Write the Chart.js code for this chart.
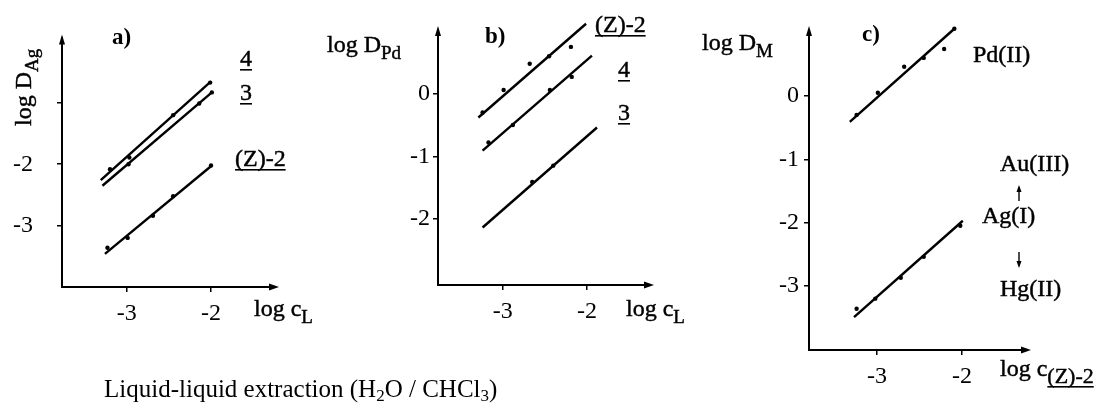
<!DOCTYPE html>
<html>
<head>
<meta charset="utf-8">
<script src="https://cdn.jsdelivr.net/npm/chart.js@4.4.0/dist/chart.umd.min.js"></script>
<style>
  html, body { margin: 0; background: #fff; }
  #wrap { position: relative; width: 1107px; height: 414px; overflow: hidden; background: #fff; }
  canvas { position: absolute; left: 0; top: 0; }
  #caption { position: absolute; left: 104px; top: 376px; font: 25px/25px "Liberation Serif", serif; color: #000; white-space: nowrap; }
  #caption sub { font-size: 17px; vertical-align: -4px; line-height: 0; }
</style>
</head>
<body>
<div id="wrap">
  <canvas id="chartA" width="1107" height="414"></canvas>
  <canvas id="chartB" width="1107" height="414"></canvas>
  <canvas id="chartC" width="1107" height="414"></canvas>
  <div id="caption">Liquid-liquid extraction (H<sub>2</sub>O / CHCl<sub>3</sub>)</div>
</div>
<script>
// ---- data ----
const xTickVals = [-3, -2];

// a) log D_Ag vs log c_L
const aYTicks = [-3, -2, -1];
const aFit4X = [-3.31, -2.00];
const aFit4Y = [-2.26, -0.65];
const aPts4X = [-3.20, -2.97, -2.45, -2.01];
const aPts4Y = [-2.08, -1.89, -1.20, -0.67];
const aFit3X = [-3.29, -1.99];
const aFit3Y = [-2.35, -0.83];
const aPts3X = [-2.98, -2.14, -1.99];
const aPts3Y = [-2.00, -1.01, -0.83];
const aFitZX = [-3.26, -1.99];
const aFitZY = [-3.46, -2.02];
const aPtsZX = [-3.23, -2.99, -2.69, -2.45, -2.00];
const aPtsZY = [-3.36, -3.20, -2.84, -2.52, -2.02];

// b) log D_Pd vs log c_L
const bYTicks = [-2, -1, 0];
const bFitZX = [-3.29, -2.01];
const bFitZY = [-0.38, 1.12];
const bPtsZX = [-3.24, -2.99, -2.68, -2.45, -2.19];
const bPtsZY = [-0.30, 0.06, 0.48, 0.60, 0.75];
const bFit4X = [-3.24, -1.94];
const bFit4Y = [-0.91, 0.61];
const bPts4X = [-3.17, -2.88, -2.44, -2.18];
const bPts4Y = [-0.78, -0.50, 0.06, 0.27];
const bFit3X = [-3.24, -1.88];
const bFit3Y = [-2.14, -0.54];
const bPts3X = [-2.65, -2.40];
const bPts3Y = [-1.41, -1.15];

// c) log D_M vs log c_(Z)-2
const cYTicks = [-3, -2, -1, 0];
const cFitPdX = [-3.32, -2.09];
const cFitPdY = [-0.41, 1.06];
const cPtsPdX = [-3.24, -2.99, -2.68, -2.45, -2.21, -2.09];
const cPtsPdY = [-0.30, 0.05, 0.46, 0.60, 0.74, 1.06];
const cFitAgX = [-3.27, -1.99];
const cFitAgY = [-3.49, -1.97];
const cPtsAgX = [-3.24, -3.02, -2.72, -2.45, -2.02];
const cPtsAgY = [-3.36, -3.20, -2.87, -2.54, -2.05];

const FONT = '"Liberation Serif", serif';
const MAIN = 24, SUB = 19, TICK = 24;

function pairs(xs, ys) { return xs.map((x, i) => ({ x, y: ys[i] })); }
function fitSet(xs, ys) {
  return { data: pairs(xs, ys), showLine: true, borderColor: '#000', borderWidth: 2.4, pointRadius: 0, clip: false };
}
function ptSet(xs, ys) {
  return { data: pairs(xs, ys), showLine: false, pointRadius: 2.2, backgroundColor: '#000', borderWidth: 0, clip: false };
}

// draw a run of text pieces; style letters: s = subscript, u = underline, b = bold
function drawRich(ctx, x, y, parts) {
  let cx = x;
  parts.forEach(([t, st = '', size]) => {
    const sub = st.includes('s');
    const bold = st.includes('b');
    ctx.font = (bold ? 'bold ' : '') + (size || (sub ? SUB : MAIN)) + 'px ' + FONT;
    const dy = sub ? 7 : 0;
    ctx.fillText(t, cx, y + dy);
    if (!bold) { ctx.lineWidth = 0.45; ctx.strokeText(t, cx, y + dy); }
    const w = ctx.measureText(t).width;
    if (st.includes('u')) ctx.fillRect(cx, y + dy + 3, w, 1.6);
    cx += w;
  });
}

function notesPlugin(notes, arrows) {
  return {
    id: 'notes',
    afterDraw(chart) {
      const ctx = chart.ctx, a = chart.chartArea;
      ctx.save();
      ctx.fillStyle = '#000';
      ctx.strokeStyle = '#000';
      ctx.textBaseline = 'alphabetic';
      // axis arrow heads
      ctx.beginPath();
      ctx.moveTo(a.right + 4, a.bottom); ctx.lineTo(a.right - 6, a.bottom - 3.5); ctx.lineTo(a.right - 6, a.bottom + 3.5);
      ctx.closePath(); ctx.fill();
      ctx.beginPath();
      ctx.moveTo(a.left, a.top - 4); ctx.lineTo(a.left - 3, a.top + 6); ctx.lineTo(a.left + 3, a.top + 6);
      ctx.closePath(); ctx.fill();
      notes.forEach(n => {
        ctx.save();
        ctx.translate(n.x, n.y);
        if (n.rot) ctx.rotate(n.rot);
        drawRich(ctx, 0, 0, n.parts);
        ctx.restore();
      });
      (arrows || []).forEach(ar => {
        ctx.lineWidth = 1.4;
        ctx.beginPath(); ctx.moveTo(ar.x, ar.y0); ctx.lineTo(ar.x, ar.y1); ctx.stroke();
        const d = ar.y1 < ar.y0 ? -1 : 1;
        ctx.beginPath();
        ctx.moveTo(ar.x, ar.y1 + d * 2); ctx.lineTo(ar.x - 2.5, ar.y1 - d * 5); ctx.lineTo(ar.x + 2.5, ar.y1 - d * 5);
        ctx.closePath(); ctx.fill();
      });
      ctx.restore();
    }
  };
}

function makePanel(id, p) {
  const tickFont = { family: FONT, size: TICK };
  return new Chart(document.getElementById(id), {
    type: 'scatter',
    data: { datasets: p.datasets },
    options: {
      responsive: false,
      animation: false,
      events: [],
      layout: { padding: { left: 0, top: p.top, right: 1107 - p.right, bottom: 414 - p.bottom - 60 } },
      plugins: { legend: { display: false }, tooltip: { enabled: false } },
      scales: {
        x: {
          type: 'linear', min: p.xMin, max: p.xMax,
          afterFit: s => { s.height = 60; },
          afterBuildTicks: s => { s.ticks = xTickVals.map(v => ({ value: v })); },
          grid: { drawOnChartArea: false, drawTicks: true, tickLength: 5, color: '#000', lineWidth: 1.5 },
          border: { display: true, color: '#000', width: 2 },
          ticks: { color: '#000', font: tickFont, padding: 7, autoSkip: false, maxRotation: 0, callback: v => String(v) }
        },
        y: {
          type: 'linear', min: p.yMin, max: p.yMax,
          afterFit: s => { s.width = p.left; },
          afterBuildTicks: s => { s.ticks = p.yTicks.map(v => ({ value: v })); },
          grid: { drawOnChartArea: false, drawTicks: true, tickLength: 5, color: '#000', lineWidth: 1.5 },
          border: { display: true, color: '#000', width: 2 },
          ticks: { color: '#000', font: tickFont, padding: p.yPad, autoSkip: false, callback: p.yLabel }
        }
      }
    },
    plugins: [notesPlugin(p.notes, p.arrows)]
  });
}

// a)
makePanel('chartA', {
  left: 62, right: 275, top: 30, bottom: 287,
  xMin: -3.77, xMax: -1.24, yMin: -4, yMax: 0.05,
  yTicks: aYTicks, yPad: 24, yLabel: v => (v === -1 ? '' : String(v)),
  datasets: [
    fitSet(aFit4X, aFit4Y), ptSet(aPts4X, aPts4Y),
    fitSet(aFit3X, aFit3Y), ptSet(aPts3X, aPts3Y),
    fitSet(aFitZX, aFitZY), ptSet(aPtsZX, aPtsZY)
  ],
  notes: [
    { x: 112, y: 44, parts: [['a)', 'b', 23]] },
    { x: 31, y: 126, rot: -Math.PI / 2, parts: [['log D'], ['Ag', 's']] },
    { x: 240, y: 66, parts: [['4', 'u']] },
    { x: 240, y: 100, parts: [['3', 'u']] },
    { x: 235, y: 166, parts: [['(Z)-2', 'u']] },
    { x: 254, y: 316, parts: [['log c'], ['L', 's']] }
  ]
});

// b)
makePanel('chartB', {
  left: 438, right: 650, top: 30, bottom: 285,
  xMin: -3.77, xMax: -1.25, yMin: -3.06, yMax: 1.02,
  yTicks: bYTicks, yPad: 3, yLabel: v => String(v),
  datasets: [
    fitSet(bFitZX, bFitZY), ptSet(bPtsZX, bPtsZY),
    fitSet(bFit4X, bFit4Y), ptSet(bPts4X, bPts4Y),
    fitSet(bFit3X, bFit3Y), ptSet(bPts3X, bPts3Y)
  ],
  notes: [
    { x: 485, y: 43, parts: [['b)', 'b', 23]] },
    { x: 327, y: 52, parts: [['log D'], ['Pd', 's']] },
    { x: 595, y: 32, parts: [['(Z)-2', 'u']] },
    { x: 618, y: 77, parts: [['4', 'u']] },
    { x: 618, y: 120, parts: [['3', 'u']] },
    { x: 626, y: 316, parts: [['log c'], ['L', 's']] }
  ]
});

// c)
makePanel('chartC', {
  left: 809, right: 1027, top: 30, bottom: 350,
  xMin: -3.8, xMax: -1.235, yMin: -4.01, yMax: 1.04,
  yTicks: cYTicks, yPad: 5, yLabel: v => String(v),
  datasets: [
    fitSet(cFitPdX, cFitPdY), ptSet(cPtsPdX, cPtsPdY),
    fitSet(cFitAgX, cFitAgY), ptSet(cPtsAgX, cPtsAgY)
  ],
  notes: [
    { x: 862, y: 41, parts: [['c)', 'b', 23]] },
    { x: 702, y: 50, parts: [['log D'], ['M', 's']] },
    { x: 973, y: 62, parts: [['Pd(II)']] },
    { x: 1000, y: 171, parts: [['Au(III)']] },
    { x: 982, y: 223, parts: [['Ag(I)']] },
    { x: 1000, y: 296, parts: [['Hg(II)']] },
    { x: 1000, y: 376, parts: [['log c'], ['(Z)-2', 'su', 22]] }
  ],
  arrows: [
    { x: 1019, y0: 201, y1: 187 },
    { x: 1019, y0: 252, y1: 266 }
  ]
});
</script>
</body>
</html>
